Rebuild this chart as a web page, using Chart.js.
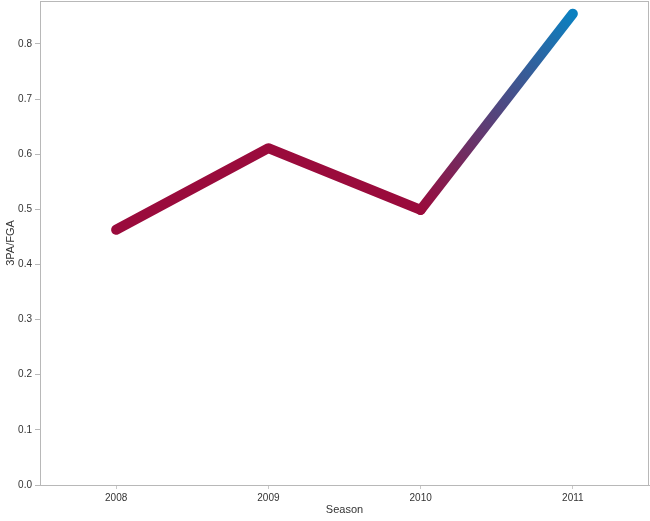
<!DOCTYPE html>
<html lang="en">
<head>
  <meta charset="UTF-8">
  <title>3PA/FGA by Season</title>
  <script src="https://cdn.jsdelivr.net/npm/chart.js"></script>
  <style>
    body { margin: 0; background: #fff; }
    #wrap { width: 650px; height: 521px; position: relative; }
  </style>
</head>
<body>
  <div id="wrap"><canvas id="chart"></canvas></div>

  <script>
    const seasons = ["2008", "2009", "2010", "2011"];
    const ratio = [0.463, 0.611, 0.499, 0.855];
    const yTicks = [0, 0.1, 0.2, 0.3, 0.4, 0.5, 0.6, 0.7, 0.8];

    const red = '#9a0b3c';
    const blue = '#0b80c0';

    // last segment fades from red into blue
    function segColor(ctx) {
      if (ctx.p1DataIndex !== seasons.length - 1) return red;
      const c = ctx.chart.ctx;
      const g = c.createLinearGradient(ctx.p0.x, ctx.p0.y, ctx.p1.x, ctx.p1.y);
      g.addColorStop(0, red);
      g.addColorStop(1, blue);
      return g;
    }

    const frame = {
      id: 'frame',
      afterDraw(chart) {
        const a = chart.chartArea, c = chart.ctx;
        c.save();
        c.strokeStyle = '#b8b8b8';
        c.lineWidth = 1;
        c.strokeRect(a.left + 0.5, a.top + 0.5, a.right - a.left - 1, a.bottom - a.top);
        c.restore();
      }
    };

    const tickFont = { family: 'Liberation Sans, Arial, sans-serif', size: 10 };

    new Chart(document.getElementById('chart'), {
      type: 'line',
      data: {
        labels: seasons,
        datasets: [{
          data: ratio,
          borderColor: red,
          borderWidth: 10,
          borderCapStyle: 'round',
          borderJoinStyle: 'round',
          pointRadius: 0,
          tension: 0,
          segment: { borderColor: segColor }
        }]
      },
      options: {
        responsive: true,
        maintainAspectRatio: false,
        animation: false,
        layout: { padding: { top: 1, right: 1 } },
        plugins: { legend: { display: false }, tooltip: { enabled: false } },
        scales: {
          x: {
            offset: true,
            grid: { drawOnChartArea: false, color: '#c8c8c8', tickLength: 4, offset: false },
            border: { color: '#b8b8b8' },
            ticks: { color: '#333', font: tickFont, padding: 3 },
            title: { display: true, text: 'Season', color: '#333', font: { family: 'Liberation Sans, Arial, sans-serif', size: 11 }, padding: { top: 2 } },
            afterFit(s) { s.height = 36; s.paddingLeft = 0; s.paddingRight = 0; }
          },
          y: {
            min: 0,
            max: 0.878,
            afterBuildTicks(s) { s.ticks = yTicks.map(v => ({ value: v })); },
            grid: { drawOnChartArea: false, color: '#b8b8b8', tickLength: 5 },
            border: { color: '#b8b8b8' },
            ticks: { color: '#333', font: tickFont, padding: 3, callback: v => v.toFixed(1) },
            title: { display: true, text: '3PA/FGA', color: '#333', font: { family: 'Liberation Sans, Arial, sans-serif', size: 11 }, padding: { bottom: 0 } },
            afterFit(s) { s.width = 40; s.paddingTop = 0; s.paddingBottom = 0; }
          }
        }
      },
      plugins: [frame]
    });
  </script>
</body>
</html>
